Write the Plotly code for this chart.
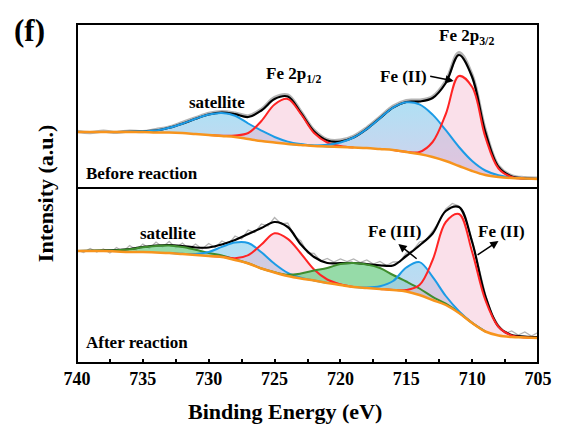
import numpy as np
import plotly.graph_objects as go

# ---------------- data (heights in arbitrary intensity units) ----------------
energy = [740, 739, 738, 737, 736, 735, 734, 733, 732, 731, 730, 729, 728, 727, 726, 725, 724, 723,
          722, 721, 720, 719, 718, 717, 716, 715, 714, 713, 712, 711, 710, 709, 708, 707, 706, 705]

raw_energy = [740, 739.5, 739, 738.5, 738, 737.5, 737, 736.5, 736, 735.5, 735, 734.5, 734, 733.5, 733,
              732.5, 732, 731.5, 731, 730.5, 730, 729.5, 729, 728.5, 728, 727.5, 727, 726.5, 726, 725.5,
              725, 724.5, 724, 723.5, 723, 722.5, 722, 721.5, 721, 720.5, 720, 719.5, 719, 718.5, 718,
              717.5, 717, 716.5, 716, 715.5, 715, 714.5, 714, 713.5, 713, 712.5, 712, 711.5, 711, 710.5,
              710, 709.5, 709, 708.5, 708, 707.5, 707, 706.5, 706, 705.5, 705]

# Before reaction
bg_before = [56, 56, 56, 56, 56, 56, 55.5, 55.5, 55, 54, 53, 52, 51, 49, 47, 45.5, 44, 43, 42, 41.5, 41,
             40.5, 40, 39, 38, 36, 34, 31, 27, 22, 17, 13, 11, 10, 9.5, 9]
sat_before = [0, 0, 0, 0, 0.2, 0.7, 2.0, 4.7, 9.3, 15.2, 20.5, 23, 21.3, 15.5, 10.4, 5.5, 2.4, 0.9, 0.3,
              0.1, 0, 0, 0, 0, 0, 0, 0, 0, 0, 0, 0, 0, 0, 0, 0, 0]
p12_before = [0, 0, 0, 0, 0, 0, 0, 0, 0, 0, 0, 0.3, 1.5, 6, 20, 38, 45, 31, 13, 4, 1, 0, 0, 0, 0, 0, 0,
              0, 0, 0, 0, 0, 0, 0, 0, 0]
fe2sat_before = [0, 0, 0, 0, 0, 0, 0, 0, 0, 0, 0, 0, 0, 0, 0, 0, 0, 0.2, 0.6, 1.7, 4.5, 10, 19, 30.8,
                 42.4, 49.7, 49.7, 42.4, 30.8, 19, 10, 4.5, 1.7, 0.5, 0.1, 0]
p32_before = [0, 0, 0, 0, 0, 0, 0, 0, 0, 0, 0, 0, 0, 0, 0, 0, 0, 0, 0, 0, 0, 0, 0, 0, 0, 0.2, 2, 15,
              47, 90, 84, 38, 8.5, 1, 0, 0]
env_before = [56, 56, 56, 56, 56.2, 56.7, 57.5, 60.2, 64.3, 69.2, 73.5, 75.3, 73.8, 71, 77.5, 89, 91.5,
              75, 56.5, 47.5, 46.5, 50.5, 59, 69.8, 80.4, 86, 86.5, 90, 105, 133, 111, 56, 21, 11.5,
              9.6, 9]
raw_before = [56.6, 55.4, 56.8, 55.6, 57, 56.3, 58.5, 61, 65.5, 70.2, 74.6, 76.5, 75, 72.2, 78.8, 90.5,
              93, 76.5, 57.8, 48.5, 47.8, 51.8, 60.3, 71, 81.8, 87.5, 88, 91.5, 107, 135.5, 113, 58,
              22, 12.3, 10.3, 9.8]

# After reaction
bg_after = [112, 112, 112, 111.5, 111, 111, 110.5, 110, 109, 108, 107, 106, 103, 99.5, 94.5, 90.5, 87,
            84.5, 82.5, 80, 78, 76, 75, 74, 73, 71.5, 68, 63, 58, 50, 40, 31.5, 27.5, 26, 25.5, 25]
sat1_after = [0, 0.2, 0.5, 1.3, 2.8, 4.8, 6.6, 7.5, 6.9, 5.2, 3.1, 1.6, 0.6, 0.2, 0, 0, 0, 0, 0, 0, 0,
              0, 0, 0, 0, 0, 0, 0, 0, 0, 0, 0, 0, 0, 0, 0]
sat2_after = [0, 0, 0, 0, 0, 0, 0, 0, 0.2, 1.0, 4.0, 10.1, 17.5, 20.5, 16.2, 8.7, 3.1, 0.8, 0.1, 0, 0,
              0, 0, 0, 0, 0, 0, 0, 0, 0, 0, 0, 0, 0, 0, 0]
p12_after = [0, 0, 0, 0, 0, 0, 0, 0, 0, 0, 0, 0.2, 1.7, 8.4, 23.9, 39.2, 37.1, 25, 11, 3.5, 0.8, 0, 0,
             0, 0, 0, 0, 0, 0, 0, 0, 0, 0, 0, 0, 0]
sat3_after = [0, 0, 0, 0, 0, 0, 0, 0, 0, 0, 0, 0, 0, 0, 0, 0.3, 1.2, 5, 10, 15, 21, 24, 23.5, 21, 15,
              10, 6.5, 3.2, 1.3, 0.5, 0.1, 0, 0, 0, 0, 0]
fe3_after = [0, 0, 0, 0, 0, 0, 0, 0, 0, 0, 0, 0, 0, 0, 0, 0, 0, 0, 0, 0, 0, 0, 0.4, 2.7, 9, 24, 32.9,
             23.1, 9, 1.9, 0.2, 0, 0, 0, 0, 0]
fe2_after = [0, 0, 0, 0, 0, 0, 0, 0, 0, 0, 0, 0, 0, 0, 0, 0, 0, 0, 0, 0, 0, 0, 0, 0, 0.1, 1.5, 10, 40,
             83, 99, 71, 31.6, 8.7, 1.5, 0.1, 0]
env_after = [112, 112.2, 112.5, 113, 114, 116, 117.5, 118, 117, 115.5, 115.5, 118.5, 123, 129, 135,
             141, 136, 118.5, 106, 100, 99.8, 100, 98.9, 97.7, 97.5, 107, 117.5, 129.5, 152, 156, 121,
             67, 36.5, 28, 26.5, 26]
raw_after = [113, 110.5, 114.5, 111, 114, 110, 115.5, 111.5, 117.5, 113,
             119, 114.5, 121, 116, 121.5, 115, 120, 114, 119, 114,
             119.5, 115.5, 122, 119, 127, 124, 133, 130.5, 139, 137,
             145.5, 139, 140, 127, 122, 110, 109.5, 102, 104.5, 101,
             104, 101.5, 104, 100.5, 103, 99, 101.5, 97.5, 101, 101,
             110, 112.5, 121, 123, 132, 141.5, 154, 159.5, 157, 144,
             123, 95, 69, 49, 38, 29.5, 32, 28, 31, 27, 30.5]

tick_values = [740, 735, 730, 725, 720, 715, 710, 705]
minor_ticks = [737.5, 732.5, 727.5, 722.5, 717.5, 712.5, 707.5]

# ---------------- styling ----------------
FONT = "Liberation Serif"
RED = "#ff2424"
BLUE = "#1b9be6"
GREEN = "#3f8d2e"
ORANGE = "#f7941d"
PINK_FILL = "rgba(242,180,205,0.42)"
GREEN_FILL = "rgba(110,205,135,0.72)"
BLUE_GRAD = [[0, "rgba(196,190,228,0.72)"], [1, "rgba(145,212,240,0.72)"]]

TOP_H = 164.0
BOT_H = 175.0
split = BOT_H / (TOP_H + BOT_H)

E = np.array(energy, dtype=float)
fig = go.Figure()


def panel(xa, ya, bg, comps, env, rx, ry, raw_w, raw_shape):
    bg = np.array(bg, dtype=float)
    fig.add_trace(go.Scatter(x=rx, y=ry, mode="lines", xaxis=xa, yaxis=ya,
                             line=dict(color="#b4b4b4", width=raw_w, shape=raw_shape),
                             hoverinfo="skip", showlegend=False))
    for vals, color, kind in comps:
        tot = bg + np.array(vals, dtype=float)
        fig.add_trace(go.Scatter(x=E, y=bg, mode="lines", xaxis=xa, yaxis=ya,
                                 line=dict(width=0, shape="spline"), hoverinfo="skip",
                                 showlegend=False))
        kw = {}
        if kind == "blue":
            kw["fillgradient"] = dict(type="vertical", colorscale=BLUE_GRAD)
        elif kind == "green":
            kw["fillcolor"] = GREEN_FILL
        else:
            kw["fillcolor"] = PINK_FILL
        fig.add_trace(go.Scatter(x=E, y=tot, mode="lines", xaxis=xa, yaxis=ya, fill="tonexty",
                                 line=dict(width=0, shape="spline"), hoverinfo="skip",
                                 showlegend=False, **kw))
    fig.add_trace(go.Scatter(x=E, y=env, mode="lines", xaxis=xa, yaxis=ya,
                             line=dict(color="black", width=2.2, shape="spline"),
                             hoverinfo="skip", showlegend=False))
    for vals, color, kind in comps:
        v = np.array(vals, dtype=float)
        idx = np.nonzero(v > 0)[0]
        lo, hi = max(idx[0] - 1, 0), min(idx[-1] + 1, len(v) - 1)
        sl = slice(lo, hi + 1)
        fig.add_trace(go.Scatter(x=E[sl], y=(bg + v)[sl], mode="lines", xaxis=xa, yaxis=ya,
                                 line=dict(color=color, width=2, shape="spline"),
                                 hoverinfo="skip", showlegend=False))
    fig.add_trace(go.Scatter(x=E, y=bg, mode="lines", xaxis=xa, yaxis=ya,
                             line=dict(color=ORANGE, width=2.5, shape="spline"),
                             hoverinfo="skip", showlegend=False))


panel("x2", "y2", bg_before,
      [(sat_before, BLUE, "blue"), (p12_before, RED, "red"),
       (fe2sat_before, BLUE, "blue"), (p32_before, RED, "red")],
      env_before, energy, raw_before, 3.2, "spline")

panel("x", "y", bg_after,
      [(sat1_after, GREEN, "green"), (sat2_after, BLUE, "blue"), (p12_after, RED, "red"),
       (sat3_after, GREEN, "green"), (fe3_after, BLUE, "blue"), (fe2_after, RED, "red")],
      env_after, raw_energy, raw_after, 1.3, "linear")

tickfont = dict(family=FONT, size=18, color="black", weight="bold")
fig.update_layout(
    width=564, height=426,
    margin=dict(l=77, r=16, t=24, b=63),
    paper_bgcolor="white", plot_bgcolor="white",
    showlegend=False,
    xaxis=dict(domain=[0, 1], range=[740, 705], anchor="y", tickmode="array",
               tickvals=tick_values, ticktext=[str(v) for v in tick_values],
               ticks="inside", ticklen=4, tickwidth=1.5, tickcolor="black",
               minor=dict(tickvals=minor_ticks, ticks="inside", ticklen=4, tickwidth=1.5,
                          tickcolor="black"),
               tickfont=tickfont, showgrid=False, zeroline=False, showline=False,
               ticklabelstandoff=3),
    yaxis=dict(domain=[0, split], range=[0, BOT_H], anchor="x", showticklabels=False,
               ticks="", showgrid=False, zeroline=False, showline=False),
    xaxis2=dict(domain=[0, 1], range=[740, 705], anchor="y2", showticklabels=False,
                ticks="", showgrid=False, zeroline=False, showline=False),
    yaxis2=dict(domain=[split, 1], range=[0, TOP_H], anchor="x2", showticklabels=False,
                ticks="", showgrid=False, zeroline=False, showline=False),
)

fig.add_shape(type="rect", xref="paper", yref="paper", x0=0, x1=1, y0=split, y1=1,
              line=dict(color="black", width=2), layer="above")
fig.add_shape(type="rect", xref="paper", yref="paper", x0=0, x1=1, y0=0, y1=split,
              line=dict(color="black", width=2), layer="above")

lab = dict(family=FONT, size=17, color="black", weight="bold")
ann = []


def text(x, y, s, xref, yref, size=17, xanchor="center"):
    ann.append(dict(x=x, y=y, xref=xref, yref=yref, text=s, showarrow=False,
                    font=dict(family=FONT, size=size, color="black", weight="bold"),
                    xanchor=xanchor, yanchor="middle"))


def arrow(x0, y0, x1, y1, xref, yref):
    ann.append(dict(x=x1, y=y1, ax=x0, ay=y0, xref=xref, yref=yref, axref=xref, ayref=yref,
                    text="", showarrow=True, arrowhead=2, arrowsize=1.1, arrowwidth=1.5,
                    arrowcolor="black"))


# top panel labels
text(729.4, 86, "satellite", "x2", "y2")
text(723.6, 113, "Fe 2p<sub>1/2</sub>", "x2", "y2")
text(715.2, 112, "Fe (II)", "x2", "y2")
text(710.4, 151, "Fe 2p<sub>3/2</sub>", "x2", "y2")
text(739.5, 15, "Before reaction", "x2", "y2", xanchor="left")
arrow(713.3, 112, 711.4, 107, "x2", "y2")

# bottom panel labels
text(733.1, 130, "satellite", "x", "y")
text(715.9, 132, "Fe (III)", "x", "y")
arrow(714.1, 103, 715.6, 119, "x", "y")
text(707.8, 132, "Fe (II)", "x", "y")
arrow(709.7, 107, 708.0, 122, "x", "y")
text(739.5, 21, "After reaction", "x", "y", xanchor="left")

# titles
ann.append(dict(x=0.452, y=-0.1445, xref="paper", yref="paper", text="Binding Energy (eV)",
                showarrow=False, font=dict(family=FONT, size=22, color="black", weight="bold"),
                xanchor="center", yanchor="middle"))
ann.append(dict(x=-0.068, y=0.50, xref="paper", yref="paper", text="Intensity (a.u.)",
                textangle=-90, showarrow=False,
                font=dict(family=FONT, size=22, color="black", weight="bold"),
                xanchor="center", yanchor="middle"))
ann.append(dict(x=-0.104, y=0.982, xref="paper", yref="paper", text="(f)", showarrow=False,
                font=dict(family=FONT, size=31, color="black", weight="bold"),
                xanchor="center", yanchor="middle"))

fig.update_layout(annotations=ann)
fig.write_html("out.html")
